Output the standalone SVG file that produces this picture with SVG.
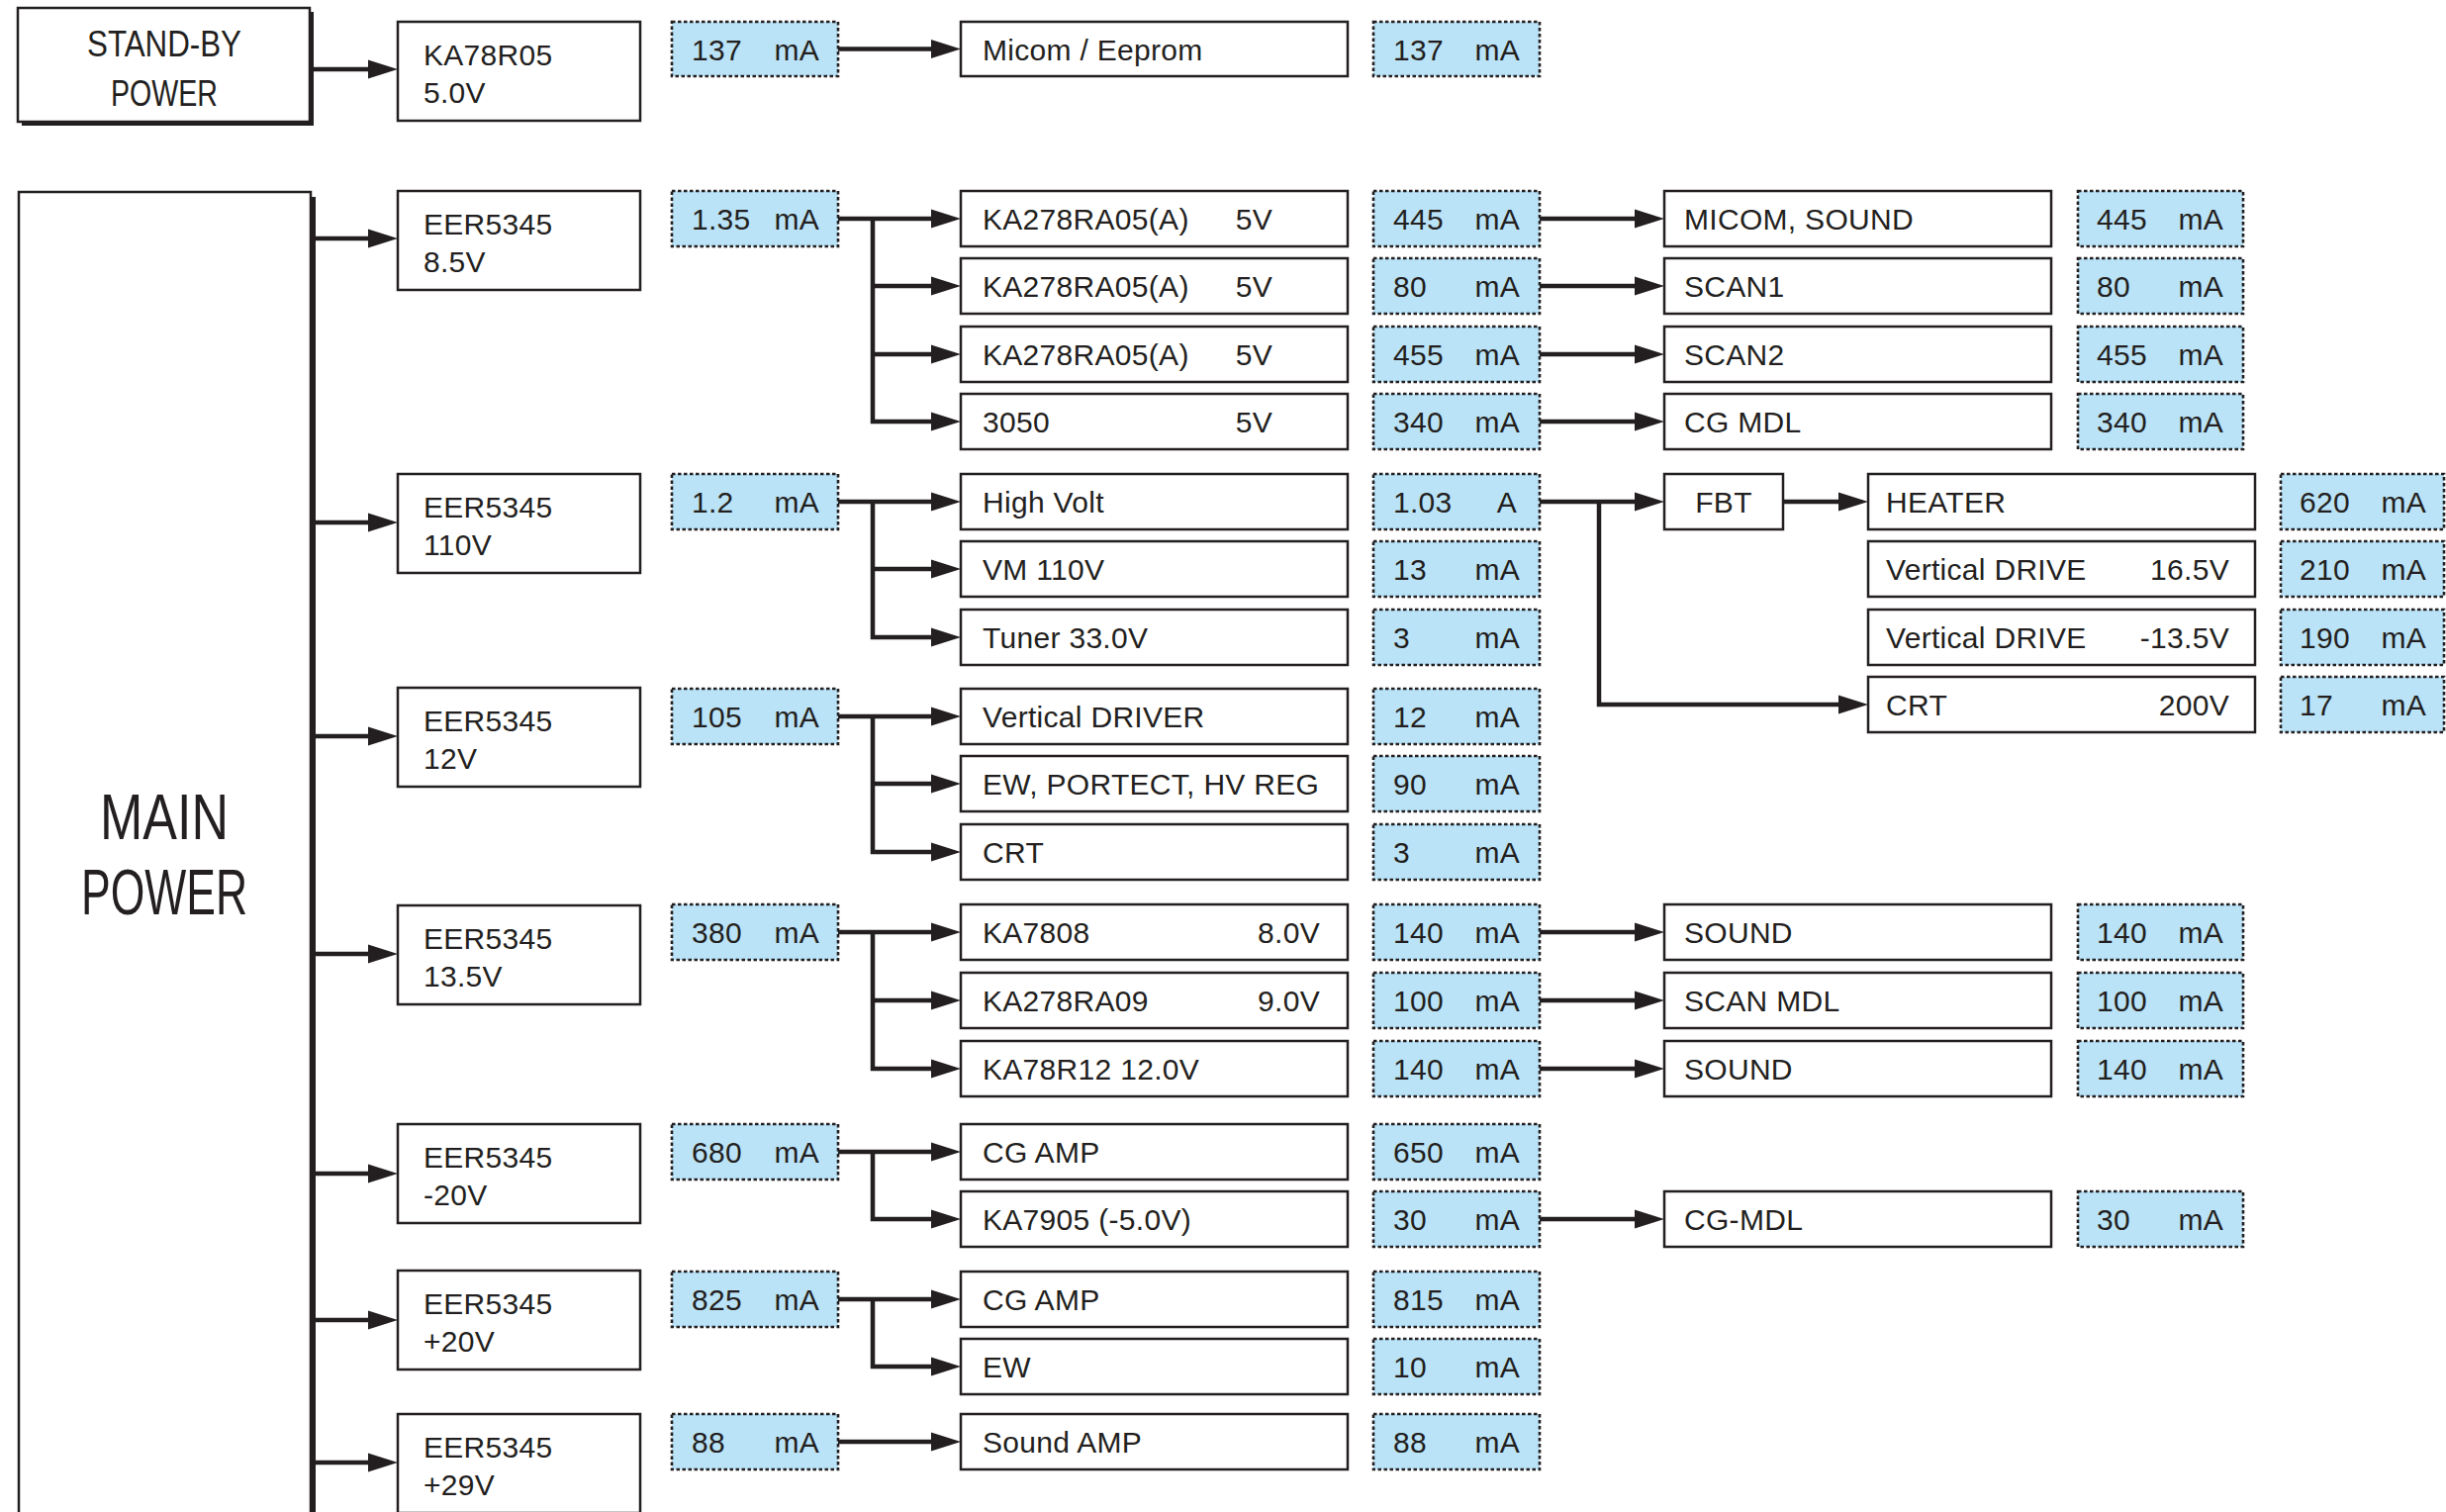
<svg xmlns="http://www.w3.org/2000/svg" width="2472" height="1528" viewBox="0 0 2472 1528">
<style>
.box{fill:#fff;stroke:#231f20;stroke-width:2.5}
.sh{fill:#231f20}
.val{fill:#bae3f7;stroke:#231f20;stroke-width:2.6;stroke-dasharray:3.5 2.5}
.t{font-family:'Liberation Sans',Arial,sans-serif;font-size:30px;fill:#231f20;letter-spacing:0.3px}
.e{text-anchor:end}
.c{text-anchor:middle}
.big{font-family:'Liberation Sans',Arial,sans-serif;fill:#231f20;text-anchor:middle}
.w{stroke:#231f20;stroke-width:4.5;fill:none;stroke-linejoin:miter;marker-end:url(#ah)}
</style>
<defs>
<marker id="ah" markerUnits="userSpaceOnUse" markerWidth="32" markerHeight="22" refX="2" refY="10" orient="auto" overflow="visible">
<path d="M0,0.5 L30,10 L0,19.5 z" fill="#231f20"/>
</marker>
</defs>
<rect width="2472" height="1528" fill="#fff"/>

<!-- Power sources -->
<g id="standby-power">
<rect class="sh" x="22" y="12" width="295" height="115"/>
<rect class="box" x="18" y="8" width="295" height="115"/>
<text class="big" x="166" y="57" font-size="37" textLength="156" lengthAdjust="spacingAndGlyphs">STAND-BY</text>
<text class="big" x="166" y="107" font-size="37" textLength="108" lengthAdjust="spacingAndGlyphs">POWER</text>
</g>
<g id="main-power">
<rect class="sh" x="24" y="199" width="295" height="1340"/>
<rect class="box" x="19" y="194" width="295" height="1340"/>
<text class="big" x="166" y="848" font-size="64" textLength="130" lengthAdjust="spacingAndGlyphs">MAIN</text>
<text class="big" x="166" y="924" font-size="64" textLength="168" lengthAdjust="spacingAndGlyphs">POWER</text>
</g>

<!-- Regulators -->
<g id="ka78r05"><rect class="box" x="402" y="22" width="245" height="100"/><text class="t" x="428" y="66">KA78R05</text><text class="t" x="428" y="104">5.0V</text></g>
<g id="eer-8v5"><rect class="box" x="402" y="193" width="245" height="100"/><text class="t" x="428" y="237">EER5345</text><text class="t" x="428" y="275">8.5V</text></g>
<g id="eer-110v"><rect class="box" x="402" y="479" width="245" height="100"/><text class="t" x="428" y="523">EER5345</text><text class="t" x="428" y="561">110V</text></g>
<g id="eer-12v"><rect class="box" x="402" y="695" width="245" height="100"/><text class="t" x="428" y="739">EER5345</text><text class="t" x="428" y="777">12V</text></g>
<g id="eer-13v5"><rect class="box" x="402" y="915" width="245" height="100"/><text class="t" x="428" y="959">EER5345</text><text class="t" x="428" y="997">13.5V</text></g>
<g id="eer-m20v"><rect class="box" x="402" y="1136" width="245" height="100"/><text class="t" x="428" y="1180">EER5345</text><text class="t" x="428" y="1218">-20V</text></g>
<g id="eer-p20v"><rect class="box" x="402" y="1284" width="245" height="100"/><text class="t" x="428" y="1328">EER5345</text><text class="t" x="428" y="1366">+20V</text></g>
<g id="eer-p29v"><rect class="box" x="402" y="1429" width="245" height="100"/><text class="t" x="428" y="1473">EER5345</text><text class="t" x="428" y="1511">+29V</text></g>

<!-- Input currents -->
<g id="in-137"><rect class="val" x="679" y="22" width="168" height="55"/><text class="t" x="699" y="61">137</text><text class="t e" x="828" y="61">mA</text></g>
<g id="in-1v35"><rect class="val" x="679" y="193" width="168" height="56"/><text class="t" x="699" y="232">1.35</text><text class="t e" x="828" y="232">mA</text></g>
<g id="in-1v2"><rect class="val" x="679" y="479" width="168" height="56"/><text class="t" x="699" y="518">1.2</text><text class="t e" x="828" y="518">mA</text></g>
<g id="in-105"><rect class="val" x="679" y="696" width="168" height="56"/><text class="t" x="699" y="735">105</text><text class="t e" x="828" y="735">mA</text></g>
<g id="in-380"><rect class="val" x="679" y="914" width="168" height="56"/><text class="t" x="699" y="953">380</text><text class="t e" x="828" y="953">mA</text></g>
<g id="in-680"><rect class="val" x="679" y="1136" width="168" height="56"/><text class="t" x="699" y="1175">680</text><text class="t e" x="828" y="1175">mA</text></g>
<g id="in-825"><rect class="val" x="679" y="1285" width="168" height="56"/><text class="t" x="699" y="1324">825</text><text class="t e" x="828" y="1324">mA</text></g>
<g id="in-88"><rect class="val" x="679" y="1429" width="168" height="56"/><text class="t" x="699" y="1468">88</text><text class="t e" x="828" y="1468">mA</text></g>

<!-- Column 1 loads -->
<g id="micom-eeprom"><rect class="box" x="971" y="22" width="391" height="55"/><text class="t" x="993" y="61">Micom / Eeprom</text></g>
<g id="ka278-1"><rect class="box" x="971" y="193" width="391" height="56"/><text class="t" x="993" y="232">KA278RA05(A)</text><text class="t e" x="1286" y="232">5V</text></g>
<g id="ka278-2"><rect class="box" x="971" y="261" width="391" height="56"/><text class="t" x="993" y="300">KA278RA05(A)</text><text class="t e" x="1286" y="300">5V</text></g>
<g id="ka278-3"><rect class="box" x="971" y="330" width="391" height="56"/><text class="t" x="993" y="369">KA278RA05(A)</text><text class="t e" x="1286" y="369">5V</text></g>
<g id="r3050"><rect class="box" x="971" y="398" width="391" height="56"/><text class="t" x="993" y="437">3050</text><text class="t e" x="1286" y="437">5V</text></g>
<g id="high-volt"><rect class="box" x="971" y="479" width="391" height="56"/><text class="t" x="993" y="518">High Volt</text></g>
<g id="vm-110v"><rect class="box" x="971" y="547" width="391" height="56"/><text class="t" x="993" y="586">VM 110V</text></g>
<g id="tuner"><rect class="box" x="971" y="616" width="391" height="56"/><text class="t" x="993" y="655">Tuner 33.0V</text></g>
<g id="vert-driver"><rect class="box" x="971" y="696" width="391" height="56"/><text class="t" x="993" y="735">Vertical DRIVER</text></g>
<g id="ew-protect"><rect class="box" x="971" y="764" width="391" height="56"/><text class="t" x="993" y="803">EW, PORTECT, HV REG</text></g>
<g id="crt-12v"><rect class="box" x="971" y="833" width="391" height="56"/><text class="t" x="993" y="872">CRT</text></g>
<g id="ka7808"><rect class="box" x="971" y="914" width="391" height="56"/><text class="t" x="993" y="953">KA7808</text><text class="t e" x="1334" y="953">8.0V</text></g>
<g id="ka278ra09"><rect class="box" x="971" y="983" width="391" height="56"/><text class="t" x="993" y="1022">KA278RA09</text><text class="t e" x="1334" y="1022">9.0V</text></g>
<g id="ka78r12"><rect class="box" x="971" y="1052" width="391" height="56"/><text class="t" x="993" y="1091">KA78R12 12.0V</text></g>
<g id="cg-amp-1"><rect class="box" x="971" y="1136" width="391" height="56"/><text class="t" x="993" y="1175">CG AMP</text></g>
<g id="ka7905"><rect class="box" x="971" y="1204" width="391" height="56"/><text class="t" x="993" y="1243">KA7905 (-5.0V)</text></g>
<g id="cg-amp-2"><rect class="box" x="971" y="1285" width="391" height="56"/><text class="t" x="993" y="1324">CG AMP</text></g>
<g id="ew"><rect class="box" x="971" y="1353" width="391" height="56"/><text class="t" x="993" y="1392">EW</text></g>
<g id="sound-amp"><rect class="box" x="971" y="1429" width="391" height="56"/><text class="t" x="993" y="1468">Sound AMP</text></g>

<!-- Column 2 currents -->
<g id="c2-137"><rect class="val" x="1388" y="22" width="168" height="55"/><text class="t" x="1408" y="61">137</text><text class="t e" x="1536" y="61">mA</text></g>
<g id="c2-445"><rect class="val" x="1388" y="193" width="168" height="56"/><text class="t" x="1408" y="232">445</text><text class="t e" x="1536" y="232">mA</text></g>
<g id="c2-80"><rect class="val" x="1388" y="261" width="168" height="56"/><text class="t" x="1408" y="300">80</text><text class="t e" x="1536" y="300">mA</text></g>
<g id="c2-455"><rect class="val" x="1388" y="330" width="168" height="56"/><text class="t" x="1408" y="369">455</text><text class="t e" x="1536" y="369">mA</text></g>
<g id="c2-340"><rect class="val" x="1388" y="398" width="168" height="56"/><text class="t" x="1408" y="437">340</text><text class="t e" x="1536" y="437">mA</text></g>
<g id="c2-1a03"><rect class="val" x="1388" y="479" width="168" height="56"/><text class="t" x="1408" y="518">1.03</text><text class="t e" x="1533" y="518">A</text></g>
<g id="c2-13"><rect class="val" x="1388" y="547" width="168" height="56"/><text class="t" x="1408" y="586">13</text><text class="t e" x="1536" y="586">mA</text></g>
<g id="c2-3a"><rect class="val" x="1388" y="616" width="168" height="56"/><text class="t" x="1408" y="655">3</text><text class="t e" x="1536" y="655">mA</text></g>
<g id="c2-12"><rect class="val" x="1388" y="696" width="168" height="56"/><text class="t" x="1408" y="735">12</text><text class="t e" x="1536" y="735">mA</text></g>
<g id="c2-90"><rect class="val" x="1388" y="764" width="168" height="56"/><text class="t" x="1408" y="803">90</text><text class="t e" x="1536" y="803">mA</text></g>
<g id="c2-3b"><rect class="val" x="1388" y="833" width="168" height="56"/><text class="t" x="1408" y="872">3</text><text class="t e" x="1536" y="872">mA</text></g>
<g id="c2-140a"><rect class="val" x="1388" y="914" width="168" height="56"/><text class="t" x="1408" y="953">140</text><text class="t e" x="1536" y="953">mA</text></g>
<g id="c2-100"><rect class="val" x="1388" y="983" width="168" height="56"/><text class="t" x="1408" y="1022">100</text><text class="t e" x="1536" y="1022">mA</text></g>
<g id="c2-140b"><rect class="val" x="1388" y="1052" width="168" height="56"/><text class="t" x="1408" y="1091">140</text><text class="t e" x="1536" y="1091">mA</text></g>
<g id="c2-650"><rect class="val" x="1388" y="1136" width="168" height="56"/><text class="t" x="1408" y="1175">650</text><text class="t e" x="1536" y="1175">mA</text></g>
<g id="c2-30"><rect class="val" x="1388" y="1204" width="168" height="56"/><text class="t" x="1408" y="1243">30</text><text class="t e" x="1536" y="1243">mA</text></g>
<g id="c2-815"><rect class="val" x="1388" y="1285" width="168" height="56"/><text class="t" x="1408" y="1324">815</text><text class="t e" x="1536" y="1324">mA</text></g>
<g id="c2-10"><rect class="val" x="1388" y="1353" width="168" height="56"/><text class="t" x="1408" y="1392">10</text><text class="t e" x="1536" y="1392">mA</text></g>
<g id="c2-88"><rect class="val" x="1388" y="1429" width="168" height="56"/><text class="t" x="1408" y="1468">88</text><text class="t e" x="1536" y="1468">mA</text></g>

<!-- Column 3 loads -->
<g id="micom-sound"><rect class="box" x="1682" y="193" width="391" height="56"/><text class="t" x="1702" y="232">MICOM, SOUND</text></g>
<g id="scan1"><rect class="box" x="1682" y="261" width="391" height="56"/><text class="t" x="1702" y="300">SCAN1</text></g>
<g id="scan2"><rect class="box" x="1682" y="330" width="391" height="56"/><text class="t" x="1702" y="369">SCAN2</text></g>
<g id="cg-mdl"><rect class="box" x="1682" y="398" width="391" height="56"/><text class="t" x="1702" y="437">CG MDL</text></g>
<g id="fbt"><rect class="box" x="1682" y="479" width="120" height="56"/><text class="t c" x="1742" y="518">FBT</text></g>
<g id="sound-1"><rect class="box" x="1682" y="914" width="391" height="56"/><text class="t" x="1702" y="953">SOUND</text></g>
<g id="scan-mdl"><rect class="box" x="1682" y="983" width="391" height="56"/><text class="t" x="1702" y="1022">SCAN MDL</text></g>
<g id="sound-2"><rect class="box" x="1682" y="1052" width="391" height="56"/><text class="t" x="1702" y="1091">SOUND</text></g>
<g id="cg-mdl-2"><rect class="box" x="1682" y="1204" width="391" height="56"/><text class="t" x="1702" y="1243">CG-MDL</text></g>

<!-- Column 3 currents -->
<g id="c3-445"><rect class="val" x="2100" y="193" width="167" height="56"/><text class="t" x="2119" y="232">445</text><text class="t e" x="2247" y="232">mA</text></g>
<g id="c3-80"><rect class="val" x="2100" y="261" width="167" height="56"/><text class="t" x="2119" y="300">80</text><text class="t e" x="2247" y="300">mA</text></g>
<g id="c3-455"><rect class="val" x="2100" y="330" width="167" height="56"/><text class="t" x="2119" y="369">455</text><text class="t e" x="2247" y="369">mA</text></g>
<g id="c3-340"><rect class="val" x="2100" y="398" width="167" height="56"/><text class="t" x="2119" y="437">340</text><text class="t e" x="2247" y="437">mA</text></g>
<g id="c3-140a"><rect class="val" x="2100" y="914" width="167" height="56"/><text class="t" x="2119" y="953">140</text><text class="t e" x="2247" y="953">mA</text></g>
<g id="c3-100"><rect class="val" x="2100" y="983" width="167" height="56"/><text class="t" x="2119" y="1022">100</text><text class="t e" x="2247" y="1022">mA</text></g>
<g id="c3-140b"><rect class="val" x="2100" y="1052" width="167" height="56"/><text class="t" x="2119" y="1091">140</text><text class="t e" x="2247" y="1091">mA</text></g>
<g id="c3-30"><rect class="val" x="2100" y="1204" width="167" height="56"/><text class="t" x="2119" y="1243">30</text><text class="t e" x="2247" y="1243">mA</text></g>

<!-- Column 4 (FBT outputs) -->
<g id="heater"><rect class="box" x="1888" y="479" width="391" height="56"/><text class="t" x="1906" y="518">HEATER</text></g>
<g id="vdrive-p"><rect class="box" x="1888" y="547" width="391" height="56"/><text class="t" x="1906" y="586">Vertical DRIVE</text><text class="t e" x="2253" y="586">16.5V</text></g>
<g id="vdrive-m"><rect class="box" x="1888" y="616" width="391" height="56"/><text class="t" x="1906" y="655">Vertical DRIVE</text><text class="t e" x="2253" y="655">-13.5V</text></g>
<g id="crt-200v"><rect class="box" x="1888" y="684" width="391" height="56"/><text class="t" x="1906" y="723">CRT</text><text class="t e" x="2253" y="723">200V</text></g>
<g id="c4-620"><rect class="val" x="2305" y="479" width="165" height="56"/><text class="t" x="2324" y="518">620</text><text class="t e" x="2452" y="518">mA</text></g>
<g id="c4-210"><rect class="val" x="2305" y="547" width="165" height="56"/><text class="t" x="2324" y="586">210</text><text class="t e" x="2452" y="586">mA</text></g>
<g id="c4-190"><rect class="val" x="2305" y="616" width="165" height="56"/><text class="t" x="2324" y="655">190</text><text class="t e" x="2452" y="655">mA</text></g>
<g id="c4-17"><rect class="val" x="2305" y="684" width="165" height="56"/><text class="t" x="2324" y="723">17</text><text class="t e" x="2452" y="723">mA</text></g>

<!-- Connectors -->
<g id="connectors">
<path class="w" d="M317,70 H374"/>
<path class="w" d="M319,241 H374"/>
<path class="w" d="M319,528 H374"/>
<path class="w" d="M319,744 H374"/>
<path class="w" d="M319,964 H374"/>
<path class="w" d="M319,1186 H374"/>
<path class="w" d="M319,1334 H374"/>
<path class="w" d="M319,1478 H374"/>

<path class="w" d="M847,49.5 H943"/>
<path class="w" d="M847,221 H943"/>
<path class="w" d="M882,289 H943"/>
<path class="w" d="M882,358 H943"/>
<path class="w" d="M882,221 V426 H943"/>
<path class="w" d="M847,507 H943"/>
<path class="w" d="M882,575 H943"/>
<path class="w" d="M882,507 V644 H943"/>
<path class="w" d="M847,724 H943"/>
<path class="w" d="M882,792 H943"/>
<path class="w" d="M882,724 V861 H943"/>
<path class="w" d="M847,942 H943"/>
<path class="w" d="M882,1011 H943"/>
<path class="w" d="M882,942 V1080 H943"/>
<path class="w" d="M847,1164 H943"/>
<path class="w" d="M882,1164 V1232 H943"/>
<path class="w" d="M847,1313 H943"/>
<path class="w" d="M882,1313 V1381 H943"/>
<path class="w" d="M847,1457 H943"/>

<path class="w" d="M1556,221 H1654"/>
<path class="w" d="M1556,289 H1654"/>
<path class="w" d="M1556,358 H1654"/>
<path class="w" d="M1556,426 H1654"/>
<path class="w" d="M1556,507 H1654"/>
<path class="w" d="M1616,507 V712 H1860"/>
<path class="w" d="M1802,507 H1860"/>
<path class="w" d="M1556,942 H1654"/>
<path class="w" d="M1556,1011 H1654"/>
<path class="w" d="M1556,1080 H1654"/>
<path class="w" d="M1556,1232 H1654"/>
</g>
</svg>
